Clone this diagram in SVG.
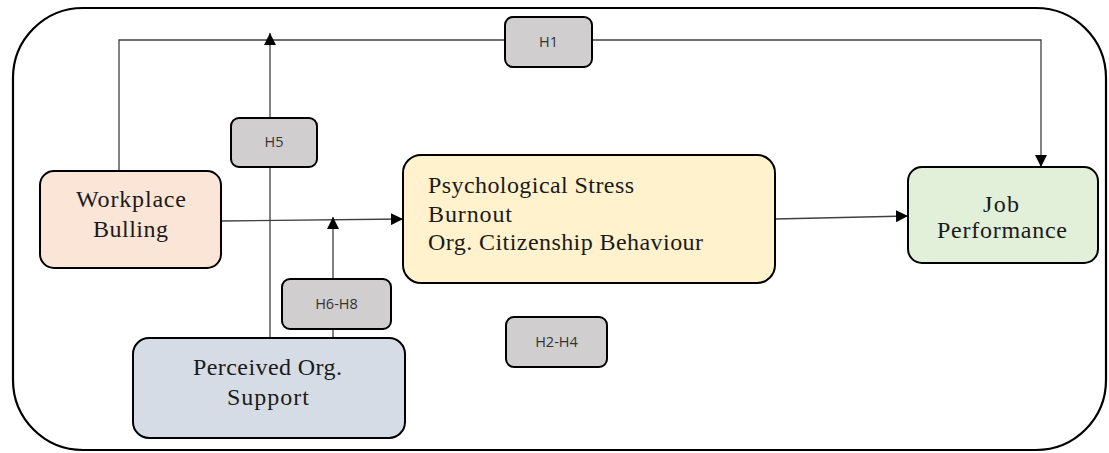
<svg xmlns="http://www.w3.org/2000/svg" width="1109" height="453" viewBox="0 0 1109 453">
  <defs>
    <marker id="arrow" viewBox="0 0 10 10" refX="10" refY="5" markerWidth="12" markerHeight="12" markerUnits="userSpaceOnUse" orient="auto">
      <path d="M0,0 L10,5 L0,10 Z" fill="#000"/>
    </marker>
    <style>
      .frame { fill: #fff; stroke: #000; stroke-width: 2.2; }
      .box { stroke: #000; stroke-width: 2; }
      .hyp { fill: #d0cece; stroke: #000; stroke-width: 2; }
      .link { fill: none; stroke: #404040; stroke-width: 1.3; }
      .serif { font-family: "Liberation Serif", "Times New Roman", serif; font-size: 24px; fill: #1a1a1a; }
      .lbl { font-family: "Open Sans", "Liberation Sans", Arial, sans-serif; font-size: 14.5px; fill: #333; text-anchor: middle; }
    </style>
  </defs>

  <rect x="0" y="0" width="1109" height="453" fill="#fff"/>

  <!-- outer rounded frame -->
  <rect class="frame" x="13" y="8" width="1093" height="442" rx="70" ry="70"/>

  <!-- connectors -->
  <g id="connectors">
    <!-- H1: bullying to job performance over the top -->
    <polyline class="link" points="119,171 119,40 1041,40 1041,167" marker-end="url(#arrow)"/>
    <!-- H5: support up to top path -->
    <line class="link" x1="270" y1="338" x2="270" y2="33" marker-end="url(#arrow)"/>
    <!-- bullying to mediators -->
    <line class="link" x1="221" y1="221" x2="403" y2="219" marker-end="url(#arrow)"/>
    <!-- H6-H8: support up to mediated path -->
    <line class="link" x1="333" y1="338" x2="333" y2="217" marker-end="url(#arrow)"/>
    <!-- mediators to job performance -->
    <line class="link" x1="775" y1="219" x2="908" y2="216" marker-end="url(#arrow)"/>
  </g>

  <!-- hypothesis labels -->
  <g id="h1">
    <rect class="hyp" x="505" y="17" width="87" height="50" rx="8"/>
    <text class="lbl" x="548.5" y="47">H1</text>
  </g>
  <g id="h5">
    <rect class="hyp" x="231" y="118" width="86" height="49" rx="8"/>
    <text class="lbl" x="274" y="147">H5</text>
  </g>
  <g id="h6-h8">
    <rect class="hyp" x="282" y="279" width="109" height="50" rx="8"/>
    <text class="lbl" x="336.5" y="309">H6-H8</text>
  </g>
  <g id="h2-h4">
    <rect class="hyp" x="506" y="317" width="101" height="50" rx="8"/>
    <text class="lbl" x="556.5" y="347">H2-H4</text>
  </g>

  <!-- construct nodes -->
  <g id="workplace-bullying">
    <rect class="box" x="40" y="171" width="181" height="97" rx="14" fill="#fbe5d6"/>
    <text class="serif" x="76" y="207" textLength="110" lengthAdjust="spacing">Workplace</text>
    <text class="serif" x="93" y="237" textLength="75" lengthAdjust="spacing">Bulling</text>
  </g>

  <g id="mediators">
    <rect class="box" x="403" y="155" width="372" height="128" rx="18" fill="#fff2cc"/>
    <text class="serif" x="428" y="193" textLength="206" lengthAdjust="spacing">Psychological Stress</text>
    <text class="serif" x="428" y="222" textLength="84" lengthAdjust="spacing">Burnout</text>
    <text class="serif" x="428" y="250" textLength="275" lengthAdjust="spacing">Org. Citizenship Behaviour</text>
  </g>

  <g id="job-performance">
    <rect class="box" x="908" y="167" width="190" height="96" rx="14" fill="#e2efd9"/>
    <text class="serif" x="983" y="212" textLength="36" lengthAdjust="spacing">Job</text>
    <text class="serif" x="937" y="238" textLength="130" lengthAdjust="spacing">Performance</text>
  </g>

  <g id="perceived-support">
    <rect class="box" x="133" y="338" width="272" height="100" rx="16" fill="#d6dce5"/>
    <text class="serif" x="193" y="375" textLength="149" lengthAdjust="spacing">Perceived Org.</text>
    <text class="serif" x="227" y="405" textLength="82" lengthAdjust="spacing">Support</text>
  </g>
</svg>
